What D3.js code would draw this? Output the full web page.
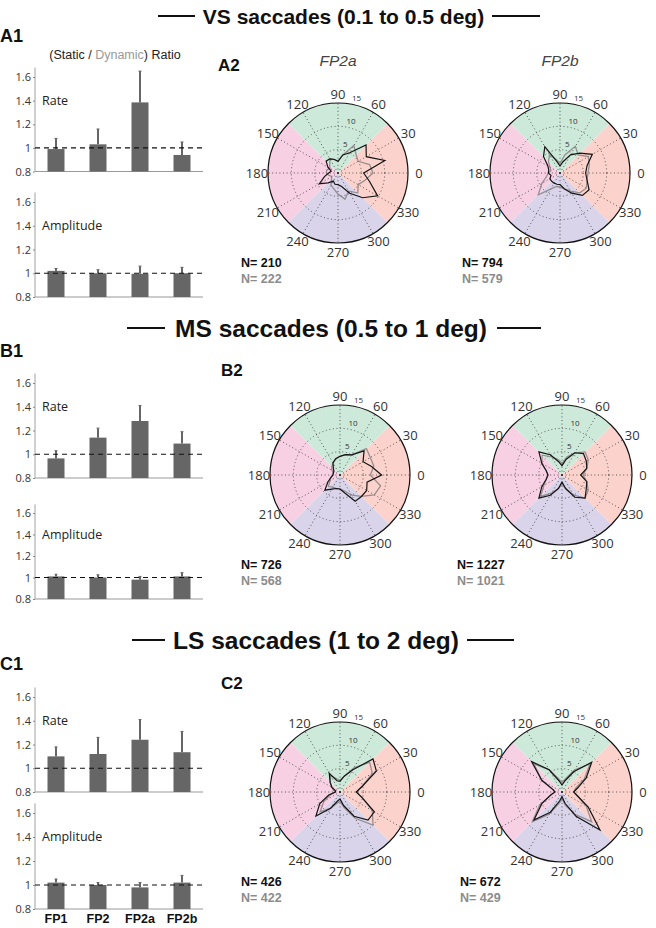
<!DOCTYPE html>
<html>
<head>
<meta charset="utf-8">
<script src="https://cdn.jsdelivr.net/npm/d3@7"></script>
<style>
  body { margin: 0; background: #fff; }
  svg { display: block; font-family: "Liberation Sans", Arial, sans-serif; }
  .tick text { font-family: "Open Sans", sans-serif; }
</style>
</head>
<body>
<svg id="fig" width="656" height="928"></svg>
<script>
// ---- data ----
const categories = ['FP1', 'FP2', 'FP2a', 'FP2b'];
const ratioTicks = [0.8, 1, 1.2, 1.4, 1.6];

// bar heights (static/dynamic ratio) and upper error bar ends
const vsRate = [0.99, 1.03, 1.385, 0.94];
const vsRateErr = [1.08, 1.16, 1.65, 1.05];
const vsAmp = [1.02, 1.0, 0.995, 1.0];
const vsAmpErr = [1.04, 1.03, 1.06, 1.05];

const msRate = [0.965, 1.14, 1.28, 1.09];
const msRateErr = [1.03, 1.22, 1.41, 1.19];
const msAmp = [1.01, 1.0, 0.98, 1.01];
const msAmpErr = [1.03, 1.025, 1.01, 1.045];

const lsRate = [1.10, 1.12, 1.24, 1.135];
const lsRateErr = [1.18, 1.26, 1.41, 1.31];
const lsAmp = [1.02, 1.0, 0.98, 1.02];
const lsAmpErr = [1.05, 1.02, 1.02, 1.08];

// polar histograms: direction bins (deg) and counts (%)
const angleBins = [0, 15, 30, 45, 60, 75, 90, 105, 120, 135, 150, 165,
                   180, 195, 210, 225, 240, 255, 270, 285, 300, 315, 330, 345];
const ringTicks = [5, 10, 15];
const angleTicks = [0, 30, 60, 90, 120, 150, 180, 210, 240, 270, 300, 330];

const vsFP2aStatic  = [5.5, 10.4, 7, 8.5, 5, 4, 2.5, 3, 3.5, 3.6, 2.5, 1.5, 2, 3, 4.6, 3, 2, 2.5, 2.5, 3, 5, 7.5, 9.8, 7];
const vsFP2aDynamic = [7.5, 7, 5, 5.5, 6.8, 4, 2.5, 3, 3.5, 2.5, 2, 2.5, 2.5, 2, 1.5, 2, 3, 3.5, 4.5, 5.8, 4.5, 6, 5, 6];
const vsFP2bStatic  = [5.5, 6, 8, 6, 4.5, 2.5, 1.5, 2.5, 6.5, 5, 3, 2.5, 2.5, 2, 2.5, 2.5, 2.5, 2.5, 2.5, 3.5, 5, 6.8, 7.2, 6];
const vsFP2bDynamic = [6, 6.5, 7, 5.5, 6.6, 4, 2, 3, 4.5, 3.5, 2.5, 2, 2.5, 3, 4.5, 6.6, 4, 3, 3, 3.5, 4.5, 6, 6.5, 6];

const msFP2aStatic  = [8.9, 7, 5.7, 7.3, 5, 4.5, 4, 3.6, 3, 2, 1.5, 1.5, 1.5, 2, 3, 4.6, 3.5, 3, 3, 4, 6.5, 6.5, 6.6, 6];
const msFP2aDynamic = [6.5, 7.5, 7.5, 8, 5, 4.5, 4, 3.5, 3, 2.5, 2, 1.5, 1.5, 2, 2.5, 3.5, 3, 3, 3, 3.5, 5, 6.5, 8.5, 9];
const msFP2bStatic  = [4, 5.5, 6, 6.5, 5.5, 3.5, 2, 3, 5, 7, 5, 3.5, 3, 3.5, 5, 7, 5, 3, 1.5, 3, 5.5, 7, 6, 5.5];
const msFP2bDynamic = [4.5, 5.5, 6.5, 7, 5.5, 4, 2.5, 3.5, 4.5, 6, 5, 3.5, 3, 3.5, 4.5, 6.5, 4.5, 3, 2, 3, 5, 7, 6.5, 5.5];

const lsFP2aStatic  = [3.5, 5, 9, 10, 5.5, 3.5, 2.3, 2.5, 4.6, 3, 2, 1, 1, 2.5, 5, 7.3, 4, 2, 1.5, 3, 6, 8.5, 8.5, 5];
const lsFP2aDynamic = [3.5, 5, 8, 9, 6, 3.5, 2.5, 3, 4, 3, 2, 1.5, 1, 2, 4, 6, 4, 2.5, 2, 3.5, 6.5, 10, 8, 5];
const lsFP2bStatic  = [2.5, 3.5, 6, 9, 5, 2.5, 1.5, 2.5, 5.5, 9.2, 5, 2, 1.5, 2.5, 5, 8.5, 5, 2, 1, 2.5, 6, 11.5, 6.5, 3.5];
const lsFP2bDynamic = [2.5, 3, 5.5, 8.5, 5.5, 3, 2, 3, 5.5, 8.5, 5, 2, 1.5, 2.5, 5.5, 9, 5.5, 2.5, 1.5, 3, 5.5, 9, 6, 3.5];

// quadrant shading (start angle, math convention) and colours
const sectorStarts = [-45, 45, 135, 225];
const sectorColors = ['#fbd3cc', '#cde9d9', '#f7d1e3', '#d9d4ea'];

// ---- layout ----
const rows = [
  { title: 'VS saccades (0.1 to 0.5 deg)', titleY: 16, titleSize: 21, lineL: [158, 195], lineR: [492, 540],
    lab1: 'A1', lab1Y: 42, lab2: 'A2', lab2Pos: [218, 71],
    rate: vsRate, rateErr: vsRateErr, amp: vsAmp, ampErr: vsAmpErr,
    rateY: [171.5, 77], ampY: [297, 202], ratioTitle: true,
    polars: [
      { cx: 338, cy: 173, s: vsFP2aStatic, d: vsFP2aDynamic, nS: 210, nD: 222, nx: 241 },
      { cx: 560, cy: 173, s: vsFP2bStatic, d: vsFP2bDynamic, nS: 794, nD: 579, nx: 462 }
    ] },
  { title: 'MS saccades (0.5 to 1 deg)', titleY: 328, titleSize: 24.5, lineL: [127, 165], lineR: [497, 541],
    lab1: 'B1', lab1Y: 357, lab2: 'B2', lab2Pos: [221, 376],
    rate: msRate, rateErr: msRateErr, amp: msAmp, ampErr: msAmpErr,
    rateY: [478, 383], ampY: [599, 513],
    polars: [
      { cx: 340, cy: 475, s: msFP2aStatic, d: msFP2aDynamic, nS: 726, nD: 568, nx: 241 },
      { cx: 562, cy: 475, s: msFP2bStatic, d: msFP2bDynamic, nS: 1227, nD: 1021, nx: 457 }
    ] },
  { title: 'LS saccades (1 to 2 deg)', titleY: 640, titleSize: 24.5, lineL: [132, 165], lineR: [467, 514],
    lab1: 'C1', lab1Y: 670, lab2: 'C2', lab2Pos: [221, 689],
    rate: lsRate, rateErr: lsRateErr, amp: lsAmp, ampErr: lsAmpErr,
    rateY: [792, 697], ampY: [909, 813], xLabels: true,
    polars: [
      { cx: 340, cy: 792, s: lsFP2aStatic, d: lsFP2aDynamic, nS: 426, nD: 422, nx: 241 },
      { cx: 562, cy: 792, s: lsFP2bStatic, d: lsFP2bDynamic, nS: 672, nD: 429, nx: 460 }
    ] }
];

const svg = d3.select('#fig');
const barX0 = 35, barX1 = 203;
const R = 70;
const rad = d => d * Math.PI / 180;

const x = d3.scaleBand().domain(categories).range([barX0, barX1]).padding(0);
const barW = 17;

function drawBars(g, vals, errs, yRange, label, showX) {
  const y = d3.scaleLinear().domain([0.8, 1.6]).range(yRange);
  const yTop = y(1.68);

  // y axis
  g.append('line').attr('x1', barX0).attr('x2', barX0)
    .attr('y1', yTop).attr('y2', y(0.8)).attr('stroke', '#888').attr('stroke-width', 0.8);
  const ax = g.append('g').attr('transform', `translate(${barX0},0)`)
    .call(d3.axisLeft(y).tickValues(ratioTicks).tickSize(2).tickSizeOuter(0)
      .tickFormat(d => d === 1 ? '1' : d3.format('.1f')(d)));
  ax.select('.domain').remove();
  ax.selectAll('.tick line').attr('stroke', '#888');
  ax.selectAll('.tick text').attr('font-size', 11).attr('fill', '#333').attr('x', -4);

  // x axis
  g.append('line').attr('x1', barX0).attr('x2', barX1)
    .attr('y1', y(0.8)).attr('y2', y(0.8)).attr('stroke', '#999').attr('stroke-width', 1);

  // bars
  g.selectAll('rect.bar').data(categories).join('rect').attr('class', 'bar')
    .attr('x', d => x(d) + x.bandwidth() / 2 - barW / 2)
    .attr('width', barW)
    .attr('y', (d, i) => y(vals[i]))
    .attr('height', (d, i) => y(0.8) - y(vals[i]))
    .attr('fill', '#666');

  // upper error bars
  g.selectAll('line.err').data(categories).join('line').attr('class', 'err')
    .attr('x1', d => x(d) + x.bandwidth() / 2).attr('x2', d => x(d) + x.bandwidth() / 2)
    .attr('y1', (d, i) => y(vals[i])).attr('y2', (d, i) => y(errs[i]))
    .attr('stroke', '#666').attr('stroke-width', 2);
  g.selectAll('line.cap').data(categories).join('line').attr('class', 'cap')
    .attr('x1', d => x(d) + x.bandwidth() / 2 - 1.5).attr('x2', d => x(d) + x.bandwidth() / 2 + 1.5)
    .attr('y1', (d, i) => y(errs[i])).attr('y2', (d, i) => y(errs[i]))
    .attr('stroke', '#666').attr('stroke-width', 1);

  // reference line at 1
  g.append('line').attr('x1', barX0).attr('x2', barX1)
    .attr('y1', y(1)).attr('y2', y(1))
    .attr('stroke', '#111').attr('stroke-width', 1.2).attr('stroke-dasharray', '5,4');

  g.append('text').attr('x', 42).attr('y', y(1.4) + 4)
    .attr('font-family', '"Open Sans", sans-serif').attr('font-size', 12.5).attr('fill', '#222')
    .text(label);

  if (showX) {
    g.selectAll('text.xl').data(categories).join('text').attr('class', 'xl')
      .attr('x', d => x(d) + x.bandwidth() / 2).attr('y', y(0.8) + 14)
      .attr('text-anchor', 'middle').attr('font-weight', 'bold').attr('font-size', 12.5)
      .attr('fill', '#111').text(d => d);
  }
}

function drawPolar(g, p) {
  const r = d3.scaleLinear().domain([0, 15]).range([0, R]);
  const pg = g.append('g').attr('transform', `translate(${p.cx},${p.cy})`);

  // quadrant shading
  const arc = d3.arc().innerRadius(0).outerRadius(R);
  pg.selectAll('path.sector').data(sectorStarts).join('path').attr('class', 'sector')
    .attr('d', (s, i) => arc({ startAngle: rad(90 - s - 90), endAngle: rad(90 - s) }))
    .attr('fill', (s, i) => sectorColors[i]);

  // dotted grid
  pg.selectAll('circle.ring').data(ringTicks.slice(0, -1)).join('circle').attr('class', 'ring')
    .attr('r', d => r(d)).attr('fill', 'none').attr('stroke', '#333')
    .attr('stroke-width', 0.8).attr('stroke-dasharray', '1,2.6');
  pg.selectAll('line.spoke').data(angleTicks).join('line').attr('class', 'spoke')
    .attr('x2', d => R * Math.cos(rad(d))).attr('y2', d => -R * Math.sin(rad(d)))
    .attr('stroke', '#333').attr('stroke-width', 0.8).attr('stroke-dasharray', '1,2.6');

  // outer circle
  pg.append('circle').attr('r', R).attr('fill', 'none').attr('stroke', '#111').attr('stroke-width', 1.2);

  // ring labels
  pg.selectAll('text.rl').data(ringTicks).join('text').attr('class', 'rl')
    .attr('x', d => (r(d) + 7) * Math.cos(rad(76)))
    .attr('y', d => -(r(d) + 7) * Math.sin(rad(76)) + 3)
    .attr('text-anchor', 'middle').attr('font-family', '"Open Sans", sans-serif')
    .attr('font-size', 8).attr('fill', '#333').text(d => d);

  // angle labels
  pg.selectAll('text.al').data(angleTicks).join('text').attr('class', 'al')
    .attr('x', d => 81 * Math.cos(rad(d)))
    .attr('y', d => -79 * Math.sin(rad(d)) + 4.5)
    .attr('text-anchor', 'middle').attr('font-family', '"Open Sans", sans-serif')
    .attr('font-size', 13).attr('fill', '#333').text(d => d);

  // histograms
  const line = d3.lineRadial()
    .angle((v, i) => rad(90 - angleBins[i]))
    .radius(v => r(v))
    .curve(d3.curveLinearClosed);
  pg.append('path').attr('d', line(p.d)).attr('fill', 'none')
    .attr('stroke', '#857a80').attr('stroke-opacity', 0.8).attr('stroke-width', 1.3);
  pg.append('path').attr('d', line(p.s)).attr('fill', 'none')
    .attr('stroke', '#151515').attr('stroke-width', 1.2);

  // counts
  g.append('text').attr('x', p.nx).attr('y', p.cy + 94)
    .attr('font-weight', 'bold').attr('font-size', 12.5).attr('fill', '#111').text('N= ' + p.nS);
  g.append('text').attr('x', p.nx).attr('y', p.cy + 110)
    .attr('font-weight', 'bold').attr('font-size', 12.5).attr('fill', '#8c8c8c').text('N= ' + p.nD);
}

rows.forEach(row => {
  const g = svg.append('g');

  // section header
  g.append('text').attr('x', (row.lineL[1] + row.lineR[0]) / 2).attr('y', row.titleY + row.titleSize * 0.36)
    .attr('text-anchor', 'middle').attr('font-weight', 'bold').attr('font-size', row.titleSize)
    .attr('fill', '#111').text(row.title);
  [row.lineL, row.lineR].forEach(l => {
    g.append('line').attr('x1', l[0]).attr('x2', l[1]).attr('y1', row.titleY).attr('y2', row.titleY)
      .attr('stroke', '#111').attr('stroke-width', 1.8);
  });

  // panel labels
  g.append('text').attr('x', 0).attr('y', row.lab1Y).attr('font-weight', 'bold')
    .attr('font-size', 18).attr('fill', '#111').text(row.lab1);
  g.append('text').attr('x', row.lab2Pos[0]).attr('y', row.lab2Pos[1]).attr('font-weight', 'bold')
    .attr('font-size', 17).attr('fill', '#111').text(row.lab2);

  if (row.ratioTitle) {
    const t = g.append('text').attr('x', 115).attr('y', 59).attr('text-anchor', 'middle')
      .attr('font-size', 12.5).attr('fill', '#222');
    t.append('tspan').text('(Static / ');
    t.append('tspan').attr('fill', '#999').text('Dynamic');
    t.append('tspan').text(') Ratio');

    [['FP2a', 338], ['FP2b', 560]].forEach(([name, cx]) => {
      g.append('text').attr('x', cx).attr('y', 66).attr('text-anchor', 'middle')
        .attr('font-style', 'italic').attr('font-size', 15.5).attr('fill', '#444').text(name);
    });
  }

  drawBars(g.append('g'), row.rate, row.rateErr, row.rateY, 'Rate', false);
  drawBars(g.append('g'), row.amp, row.ampErr, row.ampY, 'Amplitude', row.xLabels);

  row.polars.forEach(p => drawPolar(g, p));
});
</script>
</body>
</html>
